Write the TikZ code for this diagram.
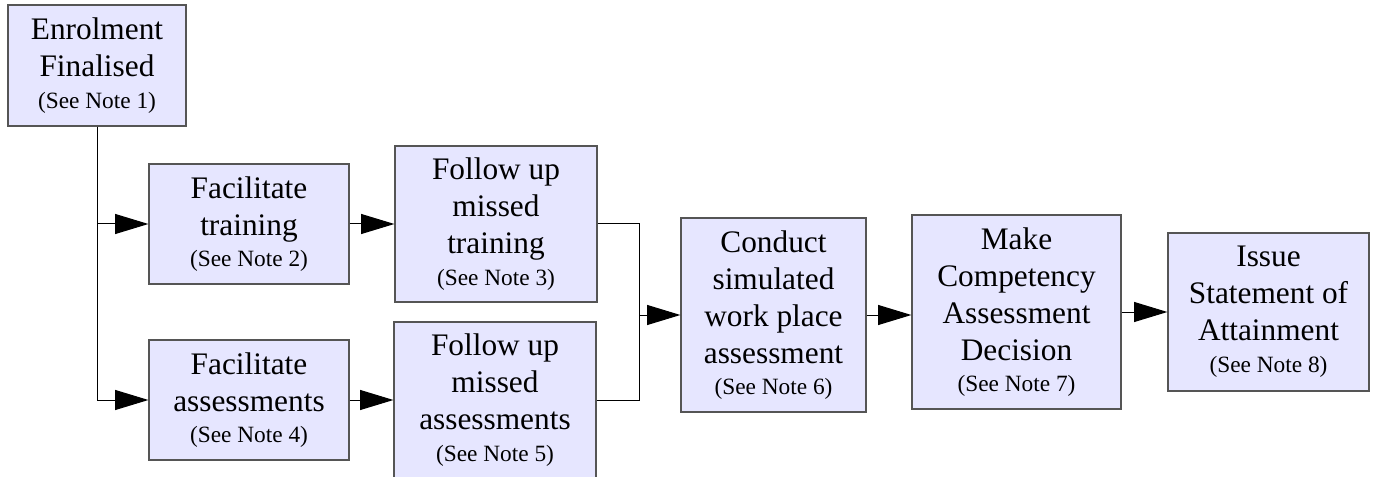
\documentclass[tikz,border=0pt]{standalone}
\usepackage{fontspec}
\setmainfont{Liberation Serif}
\usepackage{tikz}
\usetikzlibrary{arrows.meta}

\definecolor{boxfill}{RGB}{230,230,255}
\definecolor{boxline}{RGB}{85,85,85}
\newcommand{\note}[1]{{\fontsize{17.5}{20}\selectfont #1}}

\tikzset{
  stage/.style={rectangle,draw=boxline,fill=boxfill,line width=0.9pt,
    align=center,inner sep=0pt,
    font=\fontsize{23.5}{27.75}\selectfont},
  flow/.style={-{Triangle[length=25pt,width=15pt]}},
  link/.style={line width=0.75pt}
}

\begin{document}
\begin{tikzpicture}[x=0.75pt,y=-0.75pt]
\useasboundingbox (0,0) rectangle (1374,477);

\node[stage,minimum width=133.5pt,minimum height=90.75pt] (enrol) at (97,65.5)
  {Enrolment\\Finalised\\[-4pt]\note{(See Note 1)}};
\node[stage,minimum width=150pt,minimum height=90pt] (train) at (249,224)
  {Facilitate\\training\\[-4pt]\note{(See Note 2)}};
\node[stage,minimum width=151.5pt,minimum height=117pt] (misstrain) at (496,224)
  {Follow up\\missed\\training\\[-4pt]\note{(See Note 3)}};
\node[stage,minimum width=150pt,minimum height=90pt] (assess) at (249,400)
  {Facilitate\\assessments\\[-4pt]\note{(See Note 4)}};
\node[stage,minimum width=151.5pt,minimum height=117pt] (missassess) at (495,400)
  {Follow up\\missed\\assessments\\[-4pt]\note{(See Note 5)}};
\node[stage,minimum width=138.75pt,minimum height=145.5pt] (conduct) at (773.5,315)
  {Conduct\\simulated\\work place\\assessment\\[-4pt]\note{(See Note 6)}};
\node[stage,minimum width=156.75pt,minimum height=145.5pt] (decide) at (1016.5,312)
  {Make\\Competency\\Assessment\\Decision\\[-4pt]\note{(See Note 7)}};
\node[stage,minimum width=150.75pt,minimum height=118.5pt] (issue) at (1268.5,312)
  {Issue\\Statement of\\Attainment\\[-4pt]\note{(See Note 8)}};

\coordinate (join) at (639,315);

\draw[link,flow] (enrol.south) |- (train.west);
\draw[link,flow] (enrol.south) |- (assess.west);
\draw[link,flow] (train) -- (misstrain);
\draw[link,flow] (assess) -- (missassess);
\draw[link] (misstrain.east) -| (join);
\draw[link] (missassess.east) -| (join);
\draw[link,flow] (join) -- (conduct.west);
\draw[link,flow] (conduct.east) -- (conduct.east -| decide.west);
\draw[link,flow] (decide) -- (issue);

\end{tikzpicture}
\end{document}
